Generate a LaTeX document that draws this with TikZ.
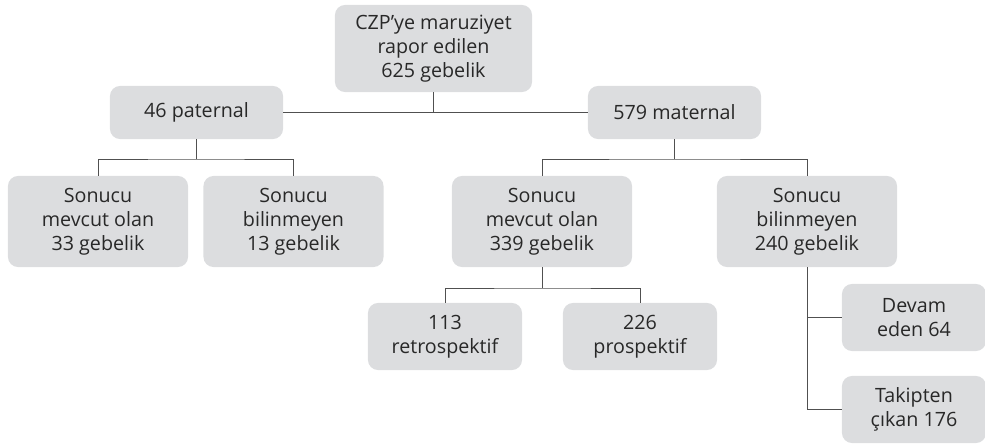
\documentclass[tikz,border=0pt]{standalone}
\usepackage{fontspec}
\setmainfont{Open Sans}
\usepackage{xcolor}
\usepackage{tikz}
\usetikzlibrary{positioning, calc}
\definecolor{boxgray}{RGB}{220,221,223}
\definecolor{linegray}{RGB}{80,80,80}
\definecolor{textgray}{RGB}{40,40,40}

\tikzset{
    box/.style={fill=boxgray, rounded corners=0.25cm, inner sep=0pt, align=center,
        text=textgray, font=\fontsize{14}{17}\selectfont},
    link/.style={draw=linegray, line width=0.7pt}
}

\begin{document}
\begin{tikzpicture}[x=0.025cm, y=-0.025cm]
    \useasboundingbox (0,0) rectangle (985,446);

    % Top level
    \node[box, minimum width=4.925cm, minimum height=2.175cm] (total) at (433.5,48.5) {CZP'ye maruziyet\\rapor edilen\\625 gebelik};
    \node[box, minimum width=4.325cm, minimum height=1.325cm] (paternal) at (196.5,112.5) {46 paternal};
    \node[box, minimum width=4.325cm, minimum height=1.325cm] (maternal) at (674.5,112.5) {579 maternal};

    % Outcomes
    \node[box, minimum width=4.5cm, minimum height=2.275cm] (patknown) at (98,221.5) {Sonucu\\mevcut olan\\33 gebelik};
    \node[box, minimum width=4.5cm, minimum height=2.275cm] (patunknown) at (293.5,221.5) {Sonucu\\bilinmeyen\\13 gebelik};
    \node[box, minimum width=4.5cm, minimum height=2.275cm] (matknown) at (542,221.5) {Sonucu\\mevcut olan\\339 gebelik};
    \node[box, minimum width=4.5cm, minimum height=2.275cm] (matunknown) at (807,221.5) {Sonucu\\bilinmeyen\\240 gebelik};

    % Bottom level
    \node[box, minimum width=3.85cm, minimum height=1.675cm] (retro) at (445,336.5) {113\\retrospektif};
    \node[box, minimum width=3.85cm, minimum height=1.675cm] (pros) at (640,336.5) {226\\prospektif};
    \node[box, minimum width=3.6cm, minimum height=1.675cm] (ongoing) at (914,317.5) {Devam\\eden 64};
    \node[box, minimum width=3.6cm, minimum height=1.675cm] (lost) at (914,409.5) {Takipten\\çıkan 176};

    % Junctions
    \coordinate (patjoin) at (196.5,159);
    \coordinate (matjoin) at (674.5,159);
    \coordinate (knownjoin) at (542,288);

    % Connectors
    \draw[link] (paternal.east) -- (maternal.west);
    \draw[link] (total.south) -- (total.south |- paternal.east);
    \draw[link] (paternal.south) -- (patjoin);
    \draw[link] (patknown.north) |- (patjoin) -| (patunknown.north);
    \draw[link] (maternal.south) -- (matjoin);
    \draw[link] (matknown.north) |- (matjoin) -| (matunknown.north);
    \draw[link] (matknown.south) -- (knownjoin);
    \draw[link] (retro.north) |- (knownjoin) -| (pros.north);
    \draw[link] (matunknown.south) |- (lost.west);
    \draw[link] (matunknown.south |- ongoing.west) -- (ongoing.west);
\end{tikzpicture}
\end{document}
